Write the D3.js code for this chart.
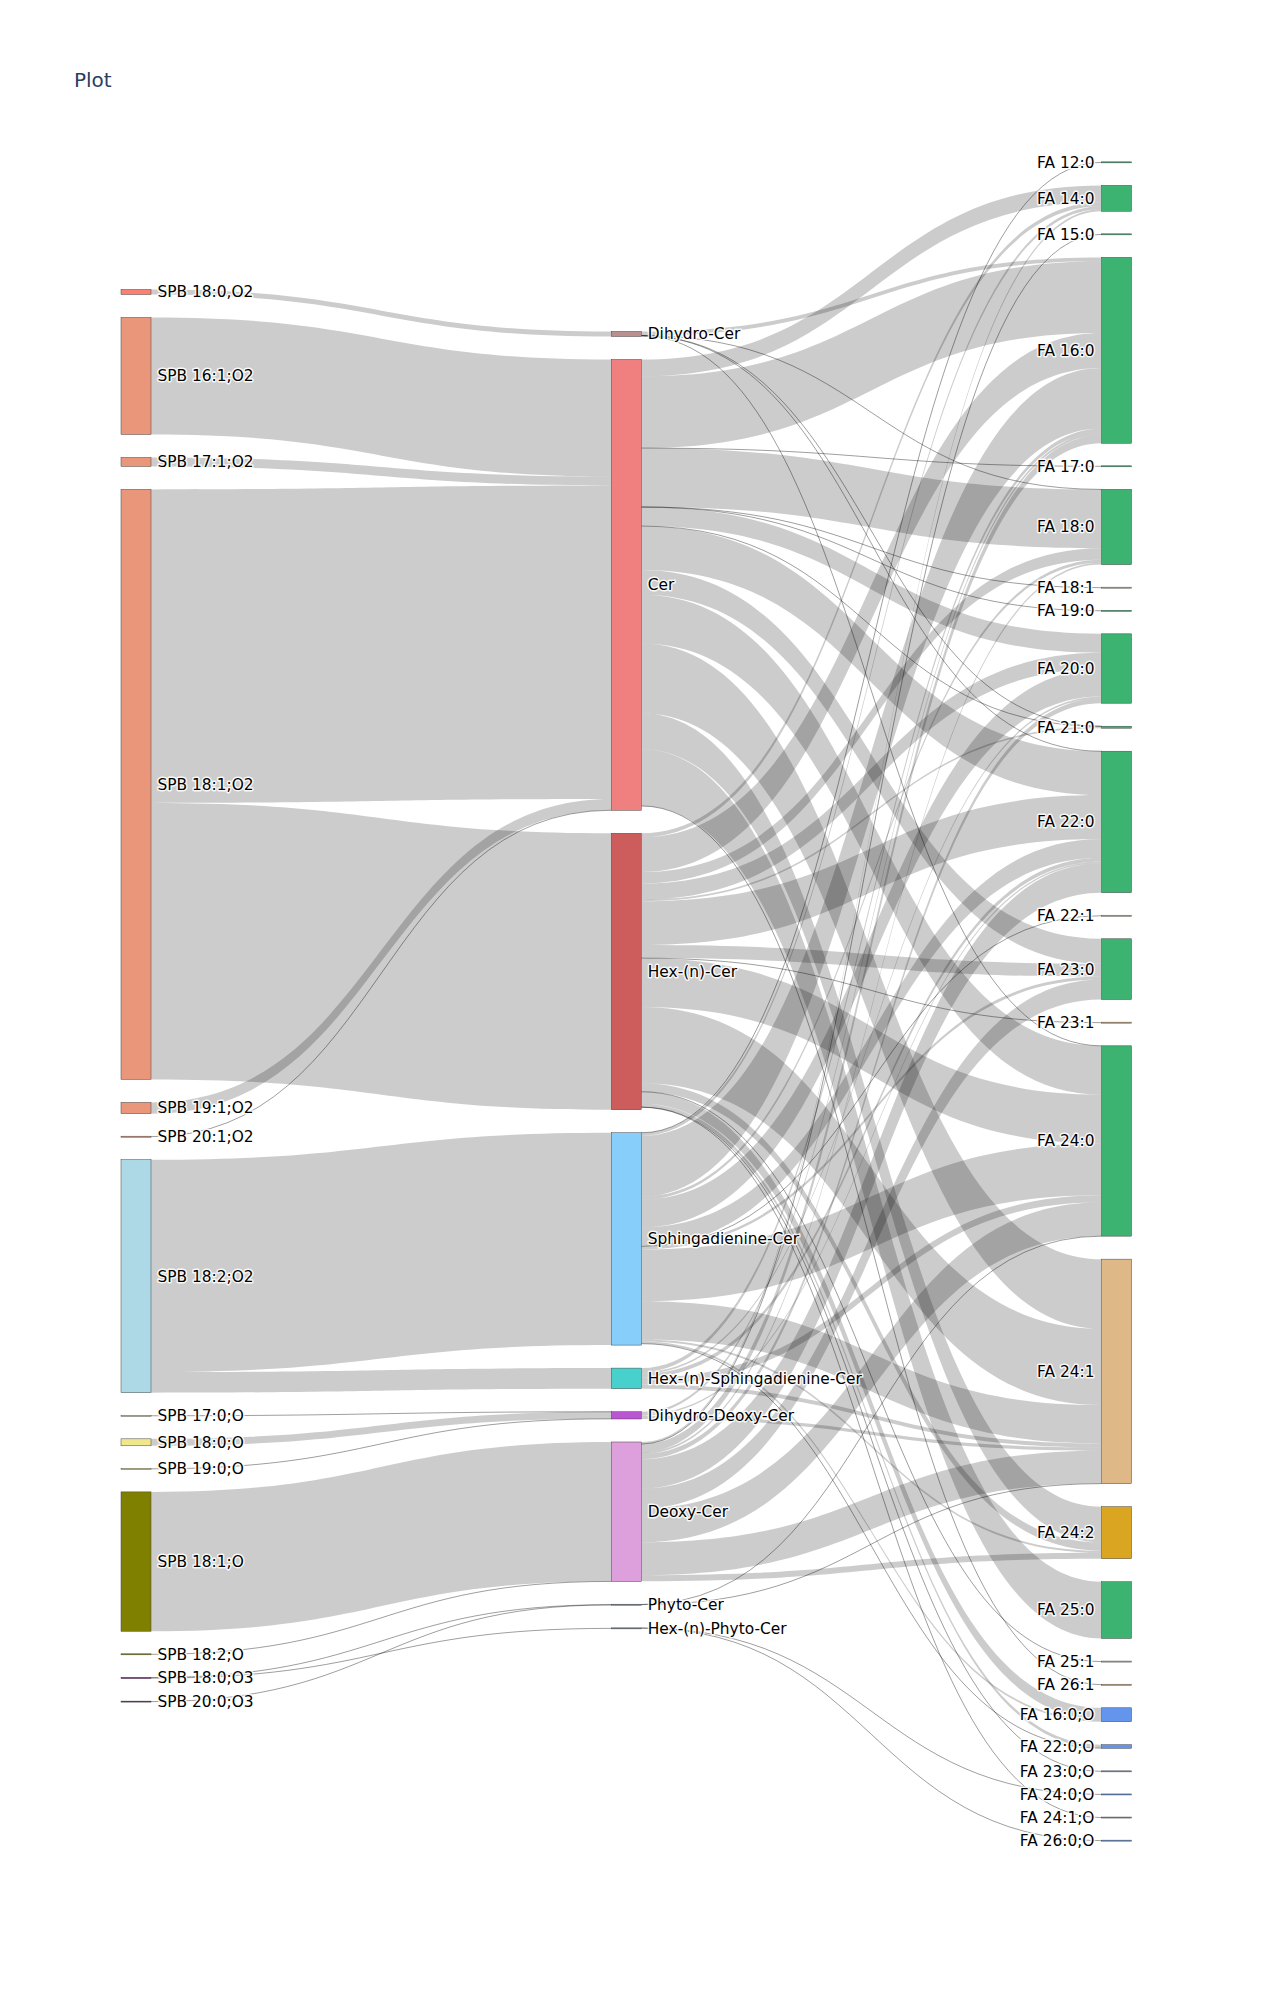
<!DOCTYPE html>
<html><head><meta charset="utf-8">
<script src="https://cdn.jsdelivr.net/npm/d3@7"></script>
<style>body{margin:0;background:#fff}svg{display:block}</style>
</head><body>
<svg id="chart" width="1275" height="1995"></svg>
<script>
// ---------- DATA ----------
const spbNodes = ["SPB 18:0,O2","SPB 16:1;O2","SPB 17:1;O2","SPB 18:1;O2","SPB 19:1;O2","SPB 20:1;O2","SPB 18:2;O2","SPB 17:0;O","SPB 18:0;O","SPB 19:0;O","SPB 18:1;O","SPB 18:2;O","SPB 18:0;O3","SPB 20:0;O3"];
const spbColors = ["salmon","darksalmon","darksalmon","darksalmon","darksalmon","darksalmon","lightblue","khaki","khaki","khaki","olive","olive","purple","purple"];

const classNodes = ["Dihydro-Cer","Cer","Hex-(n)-Cer","Sphingadienine-Cer","Hex-(n)-Sphingadienine-Cer","Dihydro-Deoxy-Cer","Deoxy-Cer","Phyto-Cer","Hex-(n)-Phyto-Cer"];
const classColors = ["rosybrown","lightcoral","indianred","lightskyblue","mediumturquoise","mediumorchid","plum","slategray","slategray"];

const faNodes = ["FA 12:0","FA 14:0","FA 15:0","FA 16:0","FA 17:0","FA 18:0","FA 18:1","FA 19:0","FA 20:0","FA 21:0","FA 22:0","FA 22:1","FA 23:0","FA 23:1","FA 24:0","FA 24:1","FA 24:2","FA 25:0","FA 25:1","FA 26:1","FA 16:0;O","FA 22:0;O","FA 23:0;O","FA 24:0;O","FA 24:1;O","FA 26:0;O"];
const faColors = ["mediumseagreen","mediumseagreen","mediumseagreen","mediumseagreen","mediumseagreen","mediumseagreen","burlywood","mediumseagreen","mediumseagreen","mediumseagreen","mediumseagreen","burlywood","mediumseagreen","burlywood","mediumseagreen","burlywood","goldenrod","mediumseagreen","burlywood","burlywood","cornflowerblue","cornflowerblue","cornflowerblue","cornflowerblue","cornflowerblue","cornflowerblue"];

// links: [source, target, value]
const spbToClassLinks = [
  ["SPB 18:0,O2","Dihydro-Cer",5],
  ["SPB 16:1;O2","Cer",117.5],
  ["SPB 17:1;O2","Cer",9],
  ["SPB 18:1;O2","Cer",314.9],
  ["SPB 18:1;O2","Hex-(n)-Cer",277.7],
  ["SPB 19:1;O2","Cer",11.3],
  ["SPB 20:1;O2","Cer",0.1],
  ["SPB 18:2;O2","Sphingadienine-Cer",213.3],
  ["SPB 18:2;O2","Hex-(n)-Sphingadienine-Cer",20.7],
  ["SPB 17:0;O","Dihydro-Deoxy-Cer",0.1],
  ["SPB 18:0;O","Dihydro-Deoxy-Cer",7],
  ["SPB 19:0;O","Dihydro-Deoxy-Cer",0.1],
  ["SPB 18:1;O","Deoxy-Cer",140],
  ["SPB 18:2;O","Deoxy-Cer",0.1],
  ["SPB 18:0;O3","Phyto-Cer",0.4],
  ["SPB 18:0;O3","Hex-(n)-Phyto-Cer",0.8],
  ["SPB 20:0;O3","Phyto-Cer",0.1]
];

const dihydroCerLinks = [["FA 16:0",4],["FA 18:0",0.1],["FA 21:0",0.1],["FA 22:0",0.1],["FA 24:0",0.1]];
const cerLinks = [["FA 14:0",17],["FA 16:0",72],["FA 17:0",0.1],["FA 18:0",59],["FA 18:1",0.1],["FA 19:0",0.1],["FA 20:0",19],["FA 21:0",0.1],["FA 22:0",44],["FA 23:0",25],["FA 24:0",49],["FA 24:1",70],["FA 24:2",36],["FA 25:0",57],["FA 26:1",0.1]];
const hexCerLinks = [["FA 14:0",4],["FA 16:0",35],["FA 18:0",11.5],["FA 20:0",16],["FA 21:0",1.8],["FA 22:0",44],["FA 23:0",13],["FA 23:1",0.3],["FA 24:0",49],["FA 24:1",76.6],["FA 24:2",8.3],["FA 25:1",0.2],["FA 16:0;O",12],["FA 22:0;O",3.3],["FA 23:0;O",0.1],["FA 24:1;O",0.1]];
const sphCerLinks = [["FA 12:0",0.1],["FA 14:0",3],["FA 16:0",61],["FA 18:0",3],["FA 20:0",28],["FA 22:0",19],["FA 22:1",0.1],["FA 23:0",3],["FA 24:0",52],["FA 24:1",38.5],["FA 24:2",2],["FA 16:0;O",2],["FA 22:0;O",0.3]];
const hexSphCerLinks = [["FA 16:0",4],["FA 20:0",1.7],["FA 22:0",4],["FA 24:0",7],["FA 24:1",4]];
const dihydroDeoxyCerLinks = [["FA 16:0",2.5],["FA 22:0",1.5],["FA 24:1",3.3]];
const deoxyCerLinks = [["FA 14:0",2],["FA 15:0",0.1],["FA 16:0",8.2],["FA 18:0",2],["FA 20:0",5],["FA 22:0",29.5],["FA 23:0",20],["FA 24:0",34],["FA 24:1",33],["FA 24:2",6]];
const phytoCerLinks = [["FA 24:0",0.1],["FA 24:1",0.1]];
const hexPhytoCerLinks = [["FA 24:0;O",0.1],["FA 26:0;O",0.1]];

const titleText = "Plot";

// ---------- LAYOUT ----------
const W = 1275, H = 1995;
const nodeWidth = 30, nodePad = 23;
const colX = d3.scaleLinear().domain([0, 2]).range([121, 1101.5]);
const colTop = [289.5, 331.5, 162.3];
const rightExtent = [162.3, 1840.7];

const classToFa = [
  ["Dihydro-Cer", dihydroCerLinks], ["Cer", cerLinks], ["Hex-(n)-Cer", hexCerLinks],
  ["Sphingadienine-Cer", sphCerLinks], ["Hex-(n)-Sphingadienine-Cer", hexSphCerLinks],
  ["Dihydro-Deoxy-Cer", dihydroDeoxyCerLinks], ["Deoxy-Cer", deoxyCerLinks],
  ["Phyto-Cer", phytoCerLinks], ["Hex-(n)-Phyto-Cer", hexPhytoCerLinks]
];

const columns = [[spbNodes, spbColors], [classNodes, classColors], [faNodes, faColors]];
const nodes = [], byName = new Map();
columns.forEach(([names, cols], ci) => names.forEach((n, i) => {
  const nd = {name: n, color: cols[i], col: ci, idx: i, sourceLinks: [], targetLinks: []};
  nodes.push(nd); byName.set(n, nd);
}));
const links = [];
spbToClassLinks.forEach(([s, t, v]) => links.push({source: byName.get(s), target: byName.get(t), value: v}));
classToFa.forEach(([s, arr]) => arr.forEach(([t, v]) => links.push({source: byName.get(s), target: byName.get(t), value: v})));
links.forEach(l => { l.source.sourceLinks.push(l); l.target.targetLinks.push(l); });
nodes.forEach(n => {
  n.value = Math.max(d3.sum(n.sourceLinks, l => l.value), d3.sum(n.targetLinks, l => l.value));
});

const rightNodesArr = nodes.filter(n => n.col === 2);
const avail = (rightExtent[1] - rightExtent[0]) - nodePad * (rightNodesArr.length - 1);
const ky = d3.scaleLinear().domain([0, d3.sum(rightNodesArr, n => n.value)]).range([0, avail]);

[0, 1, 2].forEach(ci => {
  let y = colTop[ci];
  nodes.filter(n => n.col === ci).forEach(n => {
    n.x0 = colX(ci); n.x1 = n.x0 + nodeWidth;
    n.y0 = y; n.y1 = y + ky(n.value);
    y = n.y1 + nodePad;
  });
});
nodes.forEach(n => {
  n.sourceLinks.sort((a, b) => a.target.y0 - b.target.y0);
  n.targetLinks.sort((a, b) => a.source.y0 - b.source.y0);
  let y = n.y0;
  n.sourceLinks.forEach(l => { l.w = ky(l.value); l.sy = y; y += l.w; });
  y = n.y0;
  n.targetLinks.forEach(l => { l.ty = y; y += l.w; });
});

// ---------- DRAW ----------
const svg = d3.select("#chart");
svg.append("rect").attr("width", W).attr("height", H).attr("fill", "#fff");

svg.append("text").attr("x", 74).attr("y", 87)
  .attr("font-family", "DejaVu Sans, Verdana, sans-serif").attr("font-size", 20)
  .attr("fill", "#2a3f5f").text(titleText);

function bandPath(l) {
  const x0 = l.source.x1, x1 = l.target.x0;
  const xi = d3.interpolateNumber(x0, x1);
  const c0 = xi(0.5), c1 = xi(0.5);
  const p = d3.path();
  p.moveTo(x0, l.sy);
  p.bezierCurveTo(c0, l.sy, c1, l.ty, x1, l.ty);
  p.lineTo(x1, l.ty + l.w);
  p.bezierCurveTo(c1, l.ty + l.w, c0, l.sy + l.w, x0, l.sy + l.w);
  p.closePath();
  return p.toString();
}
function linePath(l) {
  const x0 = l.source.x1, x1 = l.target.x0;
  const xi = d3.interpolateNumber(x0, x1);
  const a = l.sy + l.w / 2, b = l.ty + l.w / 2;
  const p = d3.path();
  p.moveTo(x0, a);
  p.bezierCurveTo(xi(0.5), a, xi(0.5), b, x1, b);
  return p.toString();
}

const gL = svg.append("g");
gL.selectAll("path.band").data(links.filter(l => l.w >= 1.2)).join("path")
  .attr("class", "band").attr("d", bandPath).attr("fill", "rgba(0,0,0,0.2)");
gL.selectAll("path.thin").data(links.filter(l => l.w < 1.2)).join("path")
  .attr("class", "thin").attr("d", linePath).attr("fill", "none")
  .attr("stroke", "rgba(0,0,0,0.38)").attr("stroke-width", l => Math.max(1, l.w));

const gN = svg.append("g");
gN.selectAll("rect").data(nodes).join("rect")
  .attr("x", n => n.x0).attr("width", nodeWidth)
  .attr("y", n => (n.y1 - n.y0) < 1 ? (n.y0 + n.y1) / 2 - 0.5 : n.y0)
  .attr("height", n => Math.max(1, n.y1 - n.y0))
  .attr("fill", n => n.color).attr("stroke", "#444").attr("stroke-width", 0.5);

gN.selectAll("text").data(nodes).join("text")
  .attr("x", n => n.col === 2 ? n.x0 - 7 : n.x1 + 6.5)
  .attr("y", n => (n.y0 + n.y1) / 2)
  .attr("dy", "0.35em")
  .attr("text-anchor", n => n.col === 2 ? "end" : "start")
  .attr("font-family", "DejaVu Sans, Verdana, sans-serif").attr("font-size", 15.4)
  .attr("fill", "#000")
  .attr("stroke", "rgba(255,255,255,0.85)").attr("stroke-width", 3)
  .attr("stroke-linejoin", "round").attr("paint-order", "stroke")
  .text(n => n.name);
</script>
</body></html>
